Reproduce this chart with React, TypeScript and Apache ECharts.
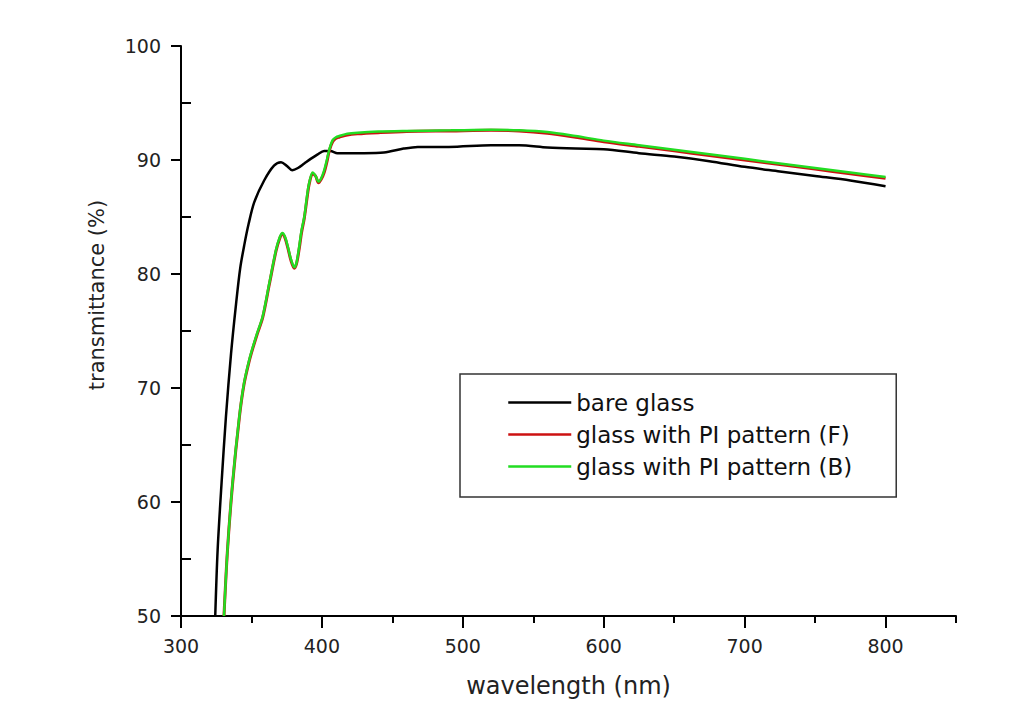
import React, { useEffect, useRef } from "react";
import * as echarts from "echarts";

// ---- data ----
const xTickLabels = [300, 400, 500, 600, 700, 800];
const xMinorTicks = [350, 450, 550, 650, 750, 850];
const yMinorTicks = [55, 65, 75, 85, 95];

const seriesNames = ["bare glass", "glass with PI pattern (F)", "glass with PI pattern (B)"];

const bareWavelength = [
  324.3, 326, 328.8, 331.9, 335.5, 339, 342, 345, 348, 352, 359, 366, 371, 375, 379, 383,
  387.5, 392, 397, 401.6, 406, 411, 420, 430, 444, 458, 468, 490, 520, 540, 560, 580, 600, 625,
  650, 675, 700, 725, 750, 775, 800,
];
const bareT = [
  50, 55.8, 61.7, 67.5, 73.0, 77.3, 80.5, 82.6, 84.4, 86.3, 88.2, 89.5, 89.8, 89.5, 89.1, 89.3,
  89.7, 90.1, 90.5, 90.8, 90.8, 90.6, 90.6, 90.6, 90.65, 91.0, 91.15, 91.15, 91.3, 91.3, 91.1,
  91.0, 90.95, 90.6, 90.3, 89.9, 89.4, 89.0, 88.6, 88.2, 87.7,
];

const piWavelength = [
  330.5, 333, 336.6, 341.4, 344.7, 348.5, 351, 354, 358, 362.7, 367.4, 370, 372, 374, 376, 378,
  380.4, 382, 384, 385.5, 387.5, 389.5, 391, 393.4, 395.5, 397.6, 399.5, 401.6, 403.5, 405.2,
  407.6, 410, 412.3, 418, 425.3, 440, 460, 491.5, 520, 540, 560, 580, 600, 625, 650, 675, 700,
  725, 750, 775, 800,
];
const piFT = [
  50, 55.8, 61.6, 67.4, 70.3, 72.4, 73.5, 74.7, 76.2, 79.1, 82.0, 83.1, 83.5, 83.1, 82.2, 81.2,
  80.5, 80.9, 82.3, 83.6, 84.9, 86.7, 87.9, 88.8, 88.6, 88.0, 88.3, 88.9, 89.8, 90.8, 91.6, 91.9,
  92.0, 92.2, 92.3, 92.4, 92.5, 92.55, 92.6, 92.55, 92.35, 92.0, 91.6, 91.2, 90.8, 90.4, 90.0,
  89.6, 89.2, 88.8, 88.4,
];
const piBT = [
  50, 55.8, 61.7, 67.5, 70.4, 72.5, 73.6, 74.8, 76.3, 79.2, 82.1, 83.2, 83.6, 83.2, 82.3, 81.3,
  80.6, 81.0, 82.5, 83.8, 85.0, 86.9, 88.0, 88.9, 88.6, 88.1, 88.4, 89.1, 90.0, 90.9, 91.75, 92.0,
  92.1, 92.3, 92.4, 92.5, 92.55, 92.6, 92.65, 92.6, 92.45, 92.1, 91.7, 91.3, 90.9, 90.5, 90.1,
  89.7, 89.3, 88.9, 88.5,
];

const FONT = "DejaVu Sans";

function pairs(xs: number[], ys: number[]) {
  return xs.map((x, i) => [x, ys[i]]);
}

export default function App() {
  const ref = useRef<HTMLDivElement>(null);

  useEffect(() => {
    if (!ref.current) return;
    const chart = echarts.init(ref.current, undefined, { renderer: "svg" });
    const axisLine = { show: true, lineStyle: { color: "#000", width: 2 } };
    chart.setOption({
      animation: false,
      backgroundColor: "#fff",
      grid: { left: 181, top: 46, width: 775, height: 570, containLabel: false },
      xAxis: [
        {
          type: "value",
          min: 300,
          max: 850,
          position: "bottom",
          axisLine,
          splitLine: { show: false },
          axisTick: {
            show: true,
            inside: false,
            length: 12,
            customValues: xTickLabels,
            lineStyle: { color: "#000", width: 2 },
          },
          axisLabel: {
            customValues: xTickLabels,
            margin: 20,
            color: "#222",
            fontSize: 19,
            fontFamily: FONT,
          },
          name: "wavelength (nm)",
          nameLocation: "middle",
          nameGap: 58,
          nameTextStyle: { color: "#222", fontSize: 24, fontFamily: FONT },
        },
        {
          type: "value",
          min: 300,
          max: 850,
          position: "bottom",
          offset: 0,
          axisLine: { show: false },
          splitLine: { show: false },
          axisLabel: { show: false },
          axisTick: {
            show: true,
            inside: false,
            length: 7,
            customValues: xMinorTicks,
            lineStyle: { color: "#000", width: 2 },
          },
        },
      ],
      yAxis: [
        {
          type: "value",
          min: 50,
          max: 100,
          interval: 10,
          position: "left",
          axisLine,
          splitLine: { show: false },
          axisTick: { show: true, inside: false, length: 10, lineStyle: { color: "#000", width: 2 } },
          axisLabel: { margin: 20, color: "#222", fontSize: 19, fontFamily: FONT },
        },
        {
          type: "value",
          min: 50,
          max: 100,
          position: "left",
          offset: 0,
          axisLine: { show: false },
          splitLine: { show: false },
          axisLabel: { show: false },
          axisTick: {
            show: true,
            inside: true,
            length: 10,
            customValues: yMinorTicks,
            lineStyle: { color: "#000", width: 2 },
          },
        },
      ],
      legend: {
        orient: "vertical",
        left: 460,
        top: 374,
        padding: [17, 44, 19, 47],
        itemGap: 9,
        itemWidth: 63,
        itemHeight: 23,
        borderColor: "#333",
        borderWidth: 1.5,
        borderRadius: 0,
        data: seriesNames,
        itemStyle: { opacity: 0 },
        lineStyle: { width: 2.5 },
        textStyle: { color: "#111", fontSize: 23, fontFamily: FONT, lineHeight: 23 },
      },
      graphic: [
        {
          type: "text",
          x: 97,
          y: 295,
          rotation: Math.PI / 2,
          style: {
            text: "transmittance (%)",
            fill: "#222",
            font: `21px '${FONT}'`,
            align: "center",
            verticalAlign: "middle",
          },
        },
      ],
      series: [
        {
          name: seriesNames[0],
          type: "line",
          data: pairs(bareWavelength, bareT),
          symbol: "none",
          smooth: 0.3,
          lineStyle: { color: "#000", width: 2.5 },
          itemStyle: { color: "#000" },
          xAxisIndex: 0,
          yAxisIndex: 0,
          z: 3,
        },
        {
          name: seriesNames[1],
          type: "line",
          data: pairs(piWavelength, piFT),
          symbol: "none",
          smooth: 0.3,
          lineStyle: { color: "#cc1111", width: 3 },
          itemStyle: { color: "#cc1111" },
          xAxisIndex: 0,
          yAxisIndex: 0,
          z: 4,
        },
        {
          name: seriesNames[2],
          type: "line",
          data: pairs(piWavelength, piBT),
          symbol: "none",
          smooth: 0.3,
          lineStyle: { color: "#22dd22", width: 2.5 },
          itemStyle: { color: "#22dd22" },
          xAxisIndex: 0,
          yAxisIndex: 0,
          z: 5,
        },
      ],
    });
    return () => chart.dispose();
  }, []);

  return (
    <div
      ref={ref}
      style={{ position: "absolute", left: 0, top: 0, width: 1015, height: 715, background: "#fff" }}
    />
  );
}
